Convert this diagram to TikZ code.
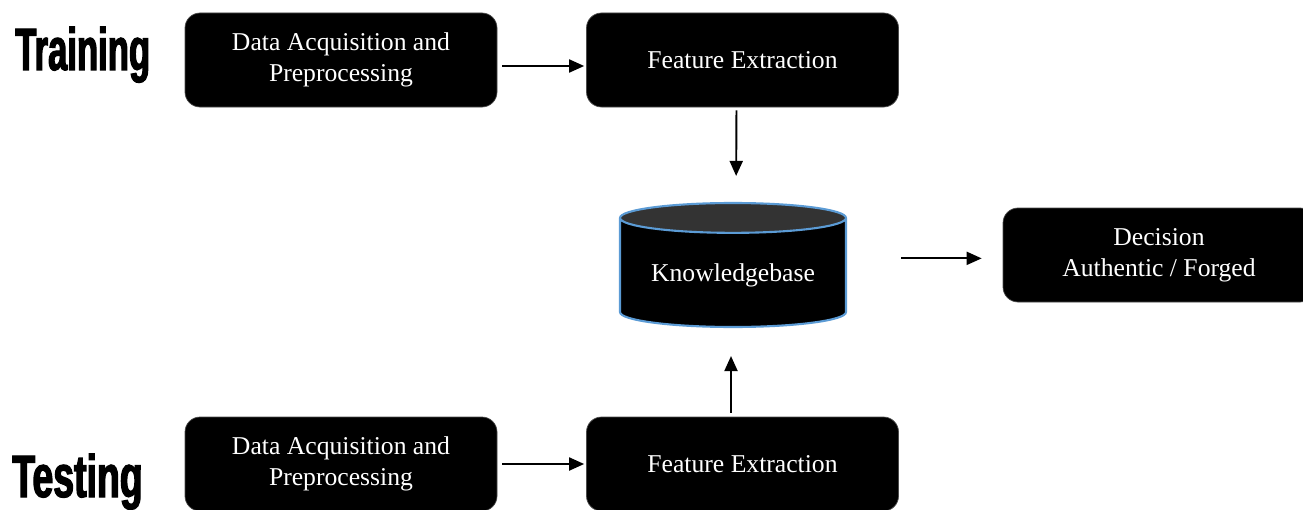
\documentclass[tikz,border=0pt]{standalone}
\usepackage{fontspec}
\setmainfont{Liberation Serif}
\newfontfamily\stagefont[FakeStretch=0.58,FakeBold=2]{Liberation Sans Bold}
\usetikzlibrary{shapes.geometric,arrows.meta}

\definecolor{dbline}{RGB}{91,155,213}
\definecolor{dbtop}{RGB}{51,51,51}

\tikzset{
  stepbox/.style={rectangle,rounded corners=0.3cm,draw=black!70,fill=black,text=white,
    minimum width=6.24cm,minimum height=1.88cm,align=center,font=\fontsize{14.6}{17.6}\selectfont},
  dbnode/.style={cylinder,shape border rotate=90,aspect=0.17,draw=dbline,line width=1.2pt,
    cylinder uses custom fill,cylinder body fill=black,cylinder end fill=dbtop,
    minimum width=4.52cm,minimum height=2.48cm,text=white,font=\fontsize{14.6}{17}\selectfont},
  stage/.style={anchor=base west,inner sep=0pt,font=\stagefont\fontsize{34}{34}\selectfont},
  arr/.style={-{Triangle[length=0.3cm,width=0.26cm]},line width=1.1pt}
}

\begin{document}
\begin{tikzpicture}
\useasboundingbox (0,0) rectangle (26.06,10.18);
\clip (0,0) rectangle (26.06,10.18);
% stage labels
\node[stage] (train) at (0.30,8.78) {Training};
\node[stage,xscale=1.08] (test) at (0.24,0.24) {Testing};
% boxes
\node[stepbox] (dapA) at (6.82,8.98) {Data Acquisition and\\Preprocessing};
\node[stepbox] (feA) at (14.85,8.98) {Feature Extraction};
\node[dbnode,anchor=shape center] (kb) at (14.66,4.88) {Knowledgebase};
\node[stepbox] (dec) at (23.18,5.08) {Decision\\Authentic / Forged};
\node[stepbox] (dapB) at (6.82,0.90) {Data Acquisition and\\Preprocessing};
\node[stepbox] (feB) at (14.85,0.90) {Feature Extraction};
% arrows
\draw[arr,shorten <=0.1cm,shorten >=0.04cm] ([yshift=-0.12cm]dapA.east) -- ([yshift=-0.12cm]feA.west);
\draw[arr,shorten <=0.06cm,shorten >=0.52cm] ([xshift=-0.12cm]feA.south) -- ([xshift=0.06cm]kb.north);
\draw[arr,shorten <=0.1cm,shorten >=0.04cm] (dapB.east) -- (feB.west);
\draw[arr,shorten <=0.08cm,shorten >=0.56cm] ([xshift=-0.23cm]feB.north) -- ([xshift=-0.04cm]kb.south);
\draw[arr,shorten <=1.08cm,shorten >=0.42cm] ([yshift=0.34cm]kb.east) -- ([yshift=0.34cm]kb.east -| dec.west);
\end{tikzpicture}
\end{document}
